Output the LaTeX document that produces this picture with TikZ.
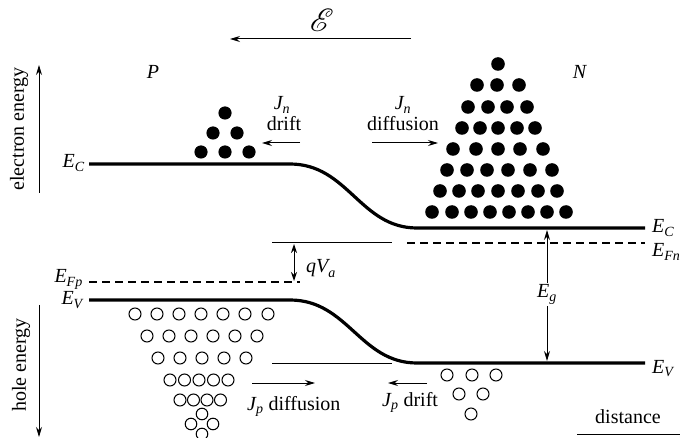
\documentclass[tikz,border=0pt]{standalone}
\usepackage{amsmath}
\usepackage{mathrsfs}
\usepackage{graphicx}
\usepackage{fontspec}
\setmainfont{Liberation Serif}
\usetikzlibrary{arrows.meta}
\newcommand{\mi}[1]{\textit{#1}}
\begin{document}
\begin{tikzpicture}[x=1pt,y=-1pt,
  txt/.style={font=\fontsize{20}{22}\selectfont, inner sep=0pt},
  band/.style={line width=3.2pt},
  thinline/.style={line width=1pt},
  fermi/.style={line width=1.3pt, dash pattern=on 8pt off 5pt},
  arr/.style={line width=1pt, -{Stealth[length=10pt,width=6pt]}},
  darr/.style={line width=1pt, {Stealth[length=9pt,width=6pt]}-{Stealth[length=9pt,width=6pt]}},
  elec/.style={fill=black},
  hole/.style={draw=black, line width=1pt, fill=white}]
\useasboundingbox (0,0) rectangle (680,438);
\fill[white] (0,0) rectangle (680,438);

% field
\node[txt] (field) at (322,20) {\scalebox{1.55}{$\mathscr{E}$}};
\coordinate (fa) at (411,39);
\coordinate (fb) at (230,39);
\draw[arr] (fa) -- (fb);

\node[txt] (P) at (153,72) {\mi{P}};
\node[txt] (N) at (580,72) {\mi{N}};

% axes
\coordinate (ee0) at (39,193);
\coordinate (ee1) at (39,65);
\draw[arr] (ee0) -- (ee1);
\node[txt, rotate=90] (eelab) at (19,129) {electron energy};
\coordinate (he0) at (39,305);
\coordinate (he1) at (39,437);
\draw[arr] (he0) -- (he1);
\node[txt, rotate=90] (helab) at (21,365) {hole energy};

% bands
\coordinate (ecL) at (89,164);
\coordinate (ecA) at (290,164);
\coordinate (ecB) at (417,228);
\coordinate (ecR) at (645,228);
\draw[band] (ecL) -- (ecA) .. controls (348,164) and (360,228) .. (ecB) -- (ecR);
\coordinate (evL) at (89,300);
\coordinate (evA) at (290,300);
\coordinate (evB) at (417,363);
\coordinate (evR) at (645,363);
\draw[band] (evL) -- (evA) .. controls (348,300) and (360,363) .. (evB) -- (evR);

% fermi levels
\coordinate (fpL) at (89,282);
\coordinate (fpR) at (300,282);
\draw[fermi] (fpL) -- (fpR);
\coordinate (fnL) at (407,243);
\coordinate (fnR) at (645,243);
\draw[fermi] (fnL) -- (fnR);

% reference lines
\coordinate (r1a) at (272,243);
\coordinate (r1b) at (392,243);
\draw[thinline] (r1a) -- (r1b);
\coordinate (r2a) at (272,363);
\coordinate (r2b) at (392,363);
\draw[thinline] (r2a) -- (r2b);

% qVa
\coordinate (qa) at (294,244);
\coordinate (qb) at (294,281);
\draw[darr] (qa) -- (qb);
\node[txt, anchor=base west] (qva) at (306,273) {$\mi{qV}_{\mi{a}}$};

% Eg
\node[txt, anchor=base, fill=white, inner sep=2pt] (eg) at (547,298) {$\mi{E}_{\mi{g}}$};
\coordinate (ega) at (547,230);
\coordinate (egb) at (547,361);
\draw[arr] (eg.north) -- (ega);
\draw[arr] (eg.south) -- (egb);

% level labels
\node[txt, anchor=base east] (ecl) at (85,168) {$\mi{E}_{\mi{C}}$};
\node[txt, anchor=base east] (efpl) at (83,283) {$\mi{E}_{\mi{Fp}}$};
\node[txt, anchor=base east] (evl) at (83,305) {$\mi{E}_{\mi{V}}$};
\node[txt, anchor=base west] (ecr) at (652,233) {$\mi{E}_{\mi{C}}$};
\node[txt, anchor=base west] (efnr) at (652,257) {$\mi{E}_{\mi{Fn}}$};
\node[txt, anchor=base west] (evr) at (652,373) {$\mi{E}_{\mi{V}}$};

% current labels
\node[txt, anchor=base] (jn1) at (282,110) {$\mi{J}_{\mi{n}}$};
\node[txt, anchor=base] (dr1) at (284,131) {drift};
\coordinate (a1a) at (300,143);
\coordinate (a1b) at (262,143);
\draw[arr] (a1a) -- (a1b);
\node[txt, anchor=base] (jn2) at (403,110) {$\mi{J}_{\mi{n}}$};
\node[txt, anchor=base] (df2) at (403,131) {diffusion};
\coordinate (a2a) at (372,143);
\coordinate (a2b) at (438,143);
\draw[arr] (a2a) -- (a2b);
\node[txt, anchor=base west] (jp1) at (247,410) {$\mi{J}_{\mi{p}}$ diffusion};
\coordinate (a3a) at (252,383);
\coordinate (a3b) at (315,383);
\draw[arr] (a3a) -- (a3b);
\node[txt, anchor=base west] (jp2) at (382,406) {$\mi{J}_{\mi{p}}$ drift};
\coordinate (a4a) at (427,383);
\coordinate (a4b) at (388,383);
\draw[arr] (a4a) -- (a4b);

% distance
\node[txt, anchor=base] (dist) at (628,423) {distance};
\coordinate (da) at (577,434);
\coordinate (db) at (690,434);
\draw[arr] (da) -- (db);

% electrons P side
\foreach \p in {(225,113),(213,133),(237,133),(201,152),(225,152),(249,152)}
  \fill[elec] \p circle (6.6);
% electrons N side
\foreach \p in {(498,64),
  (477,85),(497,85),(519,85),
  (468,107),(488,107),(507,107),(527,107),
  (462,128),(480,128),(498,128),(517,128),(535,128),
  (453,149),(476,149),(498,149),(520,149),(543,149),
  (447,170),(467,170),(487,170),(508,170),(530,170),(552,170),
  (440,191),(459,191),(478,191),(498,191),(518,191),(538,191),(557,191),
  (432,212),(452,212),(471,212),(490,212),(509,212),(528,212),(547,212),(566,212)}
  \fill[elec] \p circle (6.8);

% holes P side
\foreach \x in {135,157,179,201,223,245,268}
  \draw[hole] (\x,314) circle (6);
\foreach \x in {147,169,191,213,235,257}
  \draw[hole] (\x,336) circle (6);
\foreach \x in {158,180,202,224,246}
  \draw[hole] (\x,358) circle (6);
\foreach \x in {170,184.5,199,213.5,228}
  \draw[hole] (\x,380) circle (6);
\foreach \x in {180,193.5,207,220.5}
  \draw[hole] (\x,400) circle (6);
\foreach \p in {(202,414),(191,424),(213,424),(202,434)}
  \draw[hole] \p circle (5.8);
% holes N side
\foreach \p in {(447,375),(472,375),(496,375),(459,394),(483,394),(471,414)}
  \draw[hole] \p circle (6);
\end{tikzpicture}
\end{document}
